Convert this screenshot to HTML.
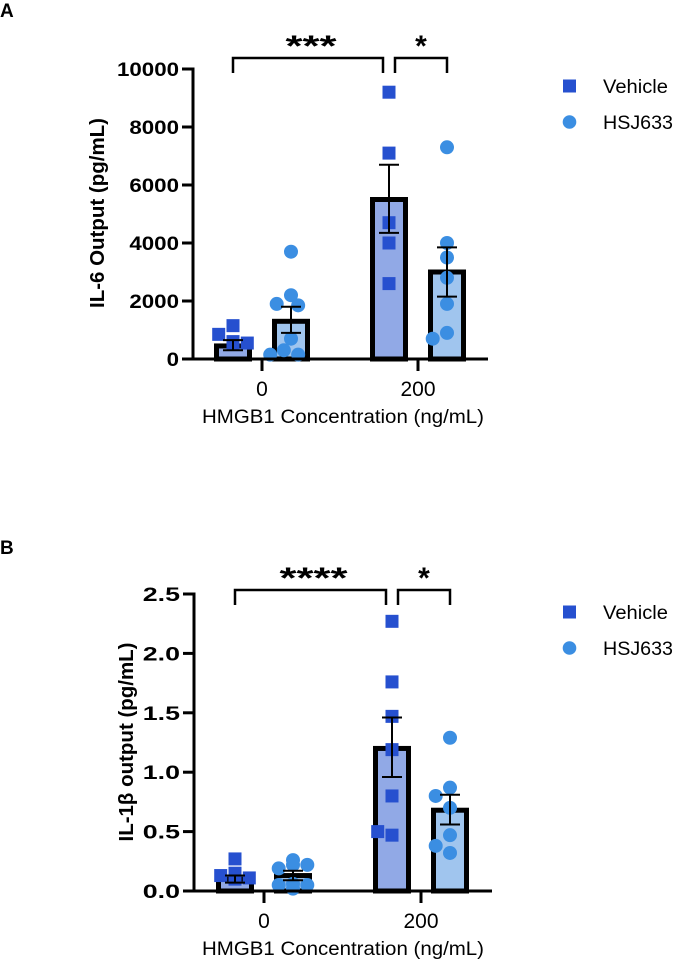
<!DOCTYPE html>
<html><head><meta charset="utf-8"><style>
html,body{margin:0;padding:0;background:#fff;}
svg{display:block;font-family:"Liberation Sans",sans-serif;}
</style></head><body>
<svg id="fig" width="680" height="961" viewBox="0 0 680 961"></svg>
<script>
// Panel A data (IL-6, pg/mL)
const categories = ["0", "200"];
const seriesNames = ["Vehicle", "HSJ633"];
const aMeans = [450, 1300, 5500, 3000];
const aErrLow = [300, 900, 4350, 2150];
const aErrHigh = [650, 1800, 6700, 3850];
const aPtsV0 = [1150, 850, 600, 550, 500, 500];
const aPtsH0 = [3700, 2200, 1900, 1850, 700, 300, 150, 150];
const aPtsV200 = [9200, 7100, 4700, 4000, 2600];
const aPtsH200 = [7300, 4000, 3500, 2800, 1900, 900, 700];
const aTicks = [0, 2000, 4000, 6000, 8000, 10000];
const aTickLabels = ["0", "2000", "4000", "6000", "8000", "10000"];
// Panel B data (IL-1β, pg/mL)
const bMeans = [0.1, 0.13, 1.2, 0.68];
const bErrLow = [0.07, 0.09, 0.96, 0.56];
const bErrHigh = [0.13, 0.17, 1.46, 0.81];
const bPtsV0 = [0.27, 0.15, 0.13, 0.11, 0.1, 0.12];
const bPtsH0 = [0.22, 0.19, 0.22, 0.26, 0.02, 0.05, 0.05, 0.06];
const bPtsV200 = [2.27, 1.76, 1.47, 1.19, 0.8, 0.47, 0.5];
const bPtsH200 = [1.29, 0.87, 0.8, 0.7, 0.47, 0.32, 0.38];
const bTicks = [0, 0.5, 1.0, 1.5, 2.0, 2.5];
const bTickLabels = ["0.0", "0.5", "1.0", "1.5", "2.0", "2.5"];

const NS = "http://www.w3.org/2000/svg";
const svg = document.getElementById("fig");
function mk(tag, attrs, parent, text) {
  const e = document.createElementNS(NS, tag);
  for (const k in attrs) e.setAttribute(k, attrs[k]);
  if (text !== undefined) e.textContent = text;
  (parent || svg).appendChild(e);
  return e;
}
const C_SQ = "#2650CF", C_CI = "#3B8EE2", F1 = "#91A9E6", F2 = "#A0C5EE";

// simple beeswarm: place points at centre, shift sideways when overlapping
function swarm(ys, d) {
  const placed = [];
  const order = ys.map((v, i) => i);
  const xs = new Array(ys.length).fill(0);
  order.forEach(i => {
    const cands = [0, -d * 0.55, d * 0.55, -d * 1.1, d * 1.1, -d * 1.6, d * 1.6];
    for (const c of cands) {
      if (placed.every(p => Math.hypot(p[0] - c, p[1] - ys[i]) >= d * 0.95)) { xs[i] = c; break; }
    }
    placed.push([xs[i], ys[i]]);
  });
  return xs;
}

function panel(cfg) {
  const g = mk("g", {});
  
  
  const y = v => cfg.y0 - (v / cfg.max) * (cfg.y0 - cfg.yTop);
  const gc = cfg.groupCenters;
  const barX = [gc[0] - 29, gc[0] + 29, gc[1] - 29, gc[1] + 29];
  const L = mk("text", {x: 0, y: cfg.letterY, "font-size": 19, "font-weight": "bold"}, g, cfg.letter);
  
  
  cfg.means.forEach((m, i) => {
    const r = mk("rect", {x: barX[i] - 16.5, y: y(m), width: 33, height: cfg.y0 - y(m),
      fill: i % 2 ? F2 : F1, stroke: "#000", "stroke-width": 5}, g);
    
    
  });
  cfg.points.forEach((arr, i) => {
    const ys = arr.map(v => y(v));
    const offs = swarm(ys, 13);
    arr.forEach((v, j) => {
      const cx = barX[i] + offs[j], cy = ys[j];
      let e;
      if (i % 2 === 0) e = mk("rect", {x: cx - 6.5, y: cy - 6.5, width: 13, height: 13, fill: C_SQ}, g);
      else e = mk("circle", {cx: cx, cy: cy, r: 7, fill: C_CI}, g);
      
      
    });
  });
  cfg.means.forEach((m, i) => {
    const eg = mk("g", {stroke: "#000", "stroke-width": 2}, g);
    
    
    mk("line", {x1: barX[i], x2: barX[i], y1: y(cfg.lo[i]), y2: y(cfg.hi[i])}, eg);
    mk("line", {x1: barX[i] - 10, x2: barX[i] + 10, y1: y(cfg.lo[i]), y2: y(cfg.lo[i])}, eg);
    mk("line", {x1: barX[i] - 10, x2: barX[i] + 10, y1: y(cfg.hi[i]), y2: y(cfg.hi[i])}, eg);
  });
  const ax = mk("g", {stroke: "#000", "stroke-width": 3}, g);
  
  
  mk("line", {x1: cfg.axX, x2: cfg.axX, y1: y(cfg.max) - 1.5, y2: cfg.y0 + 1.5}, ax);
  mk("line", {x1: cfg.axX, x2: cfg.axEnd, y1: cfg.y0, y2: cfg.y0}, ax);
  cfg.ticks.forEach((t, i) => {
    mk("line", {x1: cfg.axX - 11, x2: cfg.axX, y1: y(t), y2: y(t)}, ax);
    const lab = cfg.tickLabels[i];
    const tl = mk("text", {x: cfg.axX - 14, y: y(t) + 7, "font-size": 19, "font-weight": "bold", "text-anchor": "end",
      textLength: lab.length * 12.4, lengthAdjust: "spacingAndGlyphs"}, g, lab);
    
    
  });
  gc.forEach((c, i) => {
    mk("line", {x1: c, x2: c, y1: cfg.y0, y2: cfg.y0 + 12}, ax);
    const tl = mk("text", {x: c, y: cfg.y0 + 37, "font-size": 21, "text-anchor": "middle"}, g, categories[i]);
    
    
  });
  const xt = mk("text", {x: 343, y: cfg.y0 + 64, "font-size": 19, "text-anchor": "middle", textLength: 282, lengthAdjust: "spacingAndGlyphs"}, g, "HMGB1 Concentration (ng/mL)");
  
  
  const yt = mk("text", {x: 0, y: 0, "font-size": 20, "font-weight": "bold", "text-anchor": "middle",
    textLength: cfg.ytLen, lengthAdjust: "spacingAndGlyphs",
    transform: "translate(" + cfg.ytX + "," + cfg.ytY + ") rotate(-90)"}, g, cfg.yTitle);
  
  
  const br = mk("g", {stroke: "#000", "stroke-width": 2.5, fill: "none"}, g);
  
  
  const bt = cfg.brTop, bb = cfg.brTop + 15;
  mk("polyline", {points: barX[0] + "," + bb + " " + barX[0] + "," + bt + " " + (barX[2] - 6) + "," + bt + " " + (barX[2] - 6) + "," + bb}, br);
  mk("polyline", {points: (barX[2] + 6) + "," + bb + " " + (barX[2] + 6) + "," + bt + " " + barX[3] + "," + bt + " " + barX[3] + "," + bb}, br);
  const s1 = mk("text", {x: (barX[0] + barX[2]) / 2, y: cfg.brTop - 2, "font-size": 30, "font-weight": "bold", "text-anchor": "middle",
    textLength: cfg.star1.length * 17, lengthAdjust: "spacingAndGlyphs"}, g, cfg.star1);
  
  
  const s2 = mk("text", {x: (barX[2] + barX[3]) / 2 + 3, y: cfg.brTop - 2, "font-size": 30, "font-weight": "bold", "text-anchor": "middle"}, g, "*");
  
  
  const lg = mk("g", {}, g);
  
  
  const l1 = mk("g", {}, lg);
  
  
  mk("rect", {x: 563, y: cfg.legY - 6.5, width: 13, height: 13, fill: C_SQ}, l1);
  mk("text", {x: 603, y: cfg.legY + 7, "font-size": 19, textLength: 65, lengthAdjust: "spacingAndGlyphs"}, l1, seriesNames[0]);
  const l2 = mk("g", {}, lg);
  
  
  mk("circle", {cx: 569.5, cy: cfg.legY + 36, r: 6.8, fill: C_CI}, l2);
  mk("text", {x: 603, y: cfg.legY + 43, "font-size": 19, textLength: 70, lengthAdjust: "spacingAndGlyphs"}, l2, seriesNames[1]);
}

panel({name: "panel-a-il6", letter: "A", letterY: 17, y0: 359, yTop: 69, max: 10000,
  groupCenters: [262, 418], axX: 193, axEnd: 488, means: aMeans, lo: aErrLow, hi: aErrHigh,
  points: [aPtsV0, aPtsH0, aPtsV200, aPtsH200], ticks: aTicks, tickLabels: aTickLabels,
  ytX: 104, ytY: 213, ytLen: 190, yTitle: "IL-6 Output (pg/mL)", brTop: 58, star1: "***", legY: 86});
panel({name: "panel-b-il1b", letter: "B", letterY: 554, y0: 891, yTop: 594, max: 2.5,
  groupCenters: [264, 421], axX: 194, axEnd: 492, means: bMeans, lo: bErrLow, hi: bErrHigh,
  points: [bPtsV0, bPtsH0, bPtsV200, bPtsH200], ticks: bTicks, tickLabels: bTickLabels,
  ytX: 133, ytY: 742, ytLen: 199, yTitle: "IL-1β output (pg/mL)", brTop: 590, star1: "****", legY: 612});
</script>
</body></html>
